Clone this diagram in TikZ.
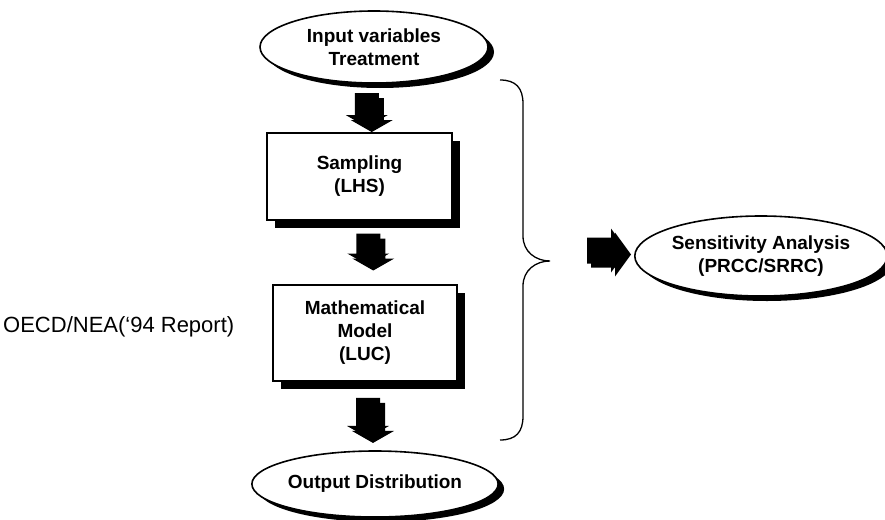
\documentclass[tikz,border=0pt]{standalone}
\usepackage{fontspec}
\setmainfont{Liberation Sans}
\usetikzlibrary{shapes.geometric,shadows,calc}

\tikzset{
  lbl/.style={font=\fontsize{19}{23}\selectfont\bfseries, align=center},
  oval/.style={ellipse, draw, line width=1.6pt, fill=white, inner sep=0pt, lbl,
    drop shadow={fill=black, opacity=1, shadow xshift=6pt, shadow yshift=-5pt}},
  stepbox/.style={rectangle, draw, line width=1.4pt, fill=white, inner sep=0pt, lbl,
    drop shadow={fill=black, opacity=1, shadow xshift=8pt, shadow yshift=-8pt}},
  % thick block arrow pointing down, half-length #1, with an offset dark copy
  pics/downarrow/.style={code={
    \foreach \d in {0,5}
      \fill[black, shift={(\d,\d)}] (-12,-#1) -- (12,-#1) -- (12,#1-12) -- (21,#1-12)
        -- (0,#1) -- (-21,#1-12) -- (-12,#1-12) -- cycle;
  }},
  % block arrow pointing right
  pics/rightarrow/.style={code={
    \foreach \d in {0,4}
      \fill[black, shift={(\d,\d)}] (-20,-13) -- (4,-13) -- (4,-22) -- (20,0)
        -- (4,22) -- (4,13) -- (-20,13) -- cycle;
  }},
}

\begin{document}
\begin{tikzpicture}[x=1pt, y=-1pt]
  \useasboundingbox (0,0) rectangle (885,519);

  % flow of the analysis
  \node[oval, minimum width=228pt, minimum height=72pt] (input) at (374,47)
    {Input variables\\Treatment};
  \node[stepbox, minimum width=185pt, minimum height=87pt] (samp) at (359.5,176.5)
    {Sampling\\(LHS)};
  \node[stepbox, minimum width=184pt, minimum height=96pt] (model) at (365,333)
    {Mathematical\\Model\\(LUC)};
  \node[oval, minimum width=236pt, minimum height=66pt] (out) at (375,484)
    {Output Distribution};
  \node[oval, minimum width=232pt, minimum height=80pt] (sens) at (761,256)
    {Sensitivity Analysis\\(PRCC/SRRC)};

  % reference note
  \node[anchor=west, inner sep=0pt, font=\fontsize{22}{26}\selectfont] (oecd) at (3,327)
    {OECD/NEA(‘94 Report)};

  % block arrows between the stages
  \pic at ($(input.south)!0.5!(samp.north)+(0,2)$) {downarrow=17};
  \pic at ($(samp.south)!0.5!(model.north)+(6,-3)$) {downarrow=16};
  \pic at ($(model.south)!0.5!(out.north)+(-2,2)$) {downarrow=20};

  % brace grouping the three stages
  \coordinate (tip) at (550,261);
  \draw[line width=1.3pt]
    (500,80) .. controls (516,80) and (523,88) .. (523,104)
    -- (523,236) .. controls (523,252) and (536,261) .. (tip)
    .. controls (536,261) and (523,270) .. (523,286)
    -- (523,416) .. controls (523,432) and (516,440) .. (500,440);

  \pic at ($(tip)!0.5!(sens.west)+(15,-8)$) {rightarrow};
\end{tikzpicture}
\end{document}
